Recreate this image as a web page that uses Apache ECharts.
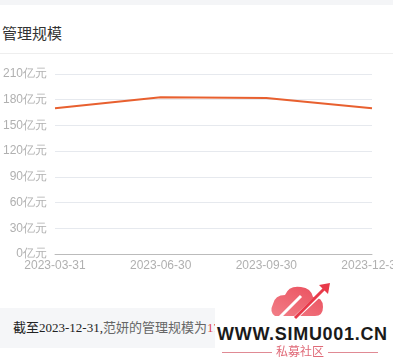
<!DOCTYPE html>
<html>
<head>
<meta charset="utf-8">
<script src="https://cdn.jsdelivr.net/npm/echarts@6/dist/echarts.min.js"></script>
<style>
html,body{margin:0;padding:0;width:393px;height:364px;overflow:hidden;background:#fff;font-family:"Noto Sans CJK SC","Noto Sans",sans-serif;position:relative;}
#topband{position:absolute;left:0;top:0;width:393px;height:5px;background:#f4f5f7;}
#title{position:absolute;left:2px;top:22px;font-size:15px;color:#333;line-height:22px;}
#divider{position:absolute;left:0;top:53px;width:393px;height:1px;background:#eeeeee;}
#chart{position:absolute;left:0;top:0;width:430px;height:364px;}
#note{position:absolute;left:0;top:308px;width:215px;height:40px;background:#f5f6f8;overflow:hidden;white-space:nowrap;}
#note span.t{position:absolute;left:13px;top:11px;font-size:13px;line-height:18px;font-family:"Liberation Serif","Noto Sans CJK SC",serif;}
.dark{color:#222;}
.grey{color:#666;}
.red{color:#e0474c;}
#wm{position:absolute;left:215px;top:280px;width:178px;height:84px;background:#fff;}
#wmtext{position:absolute;left:2px;top:45px;font-size:18px;line-height:18px;font-weight:bold;color:#1a1a1a;font-family:"Liberation Sans",Arial,sans-serif;letter-spacing:0.7px;white-space:nowrap;}
#wmsub{position:absolute;left:0;top:63px;width:170px;text-align:center;font-size:12px;line-height:16px;color:#e06a78;white-space:nowrap;}
#wmsub .ln{display:inline-block;width:50px;height:1px;background:#e08a94;vertical-align:middle;margin:0 4px;}
</style>
</head>
<body>
<div id="topband"></div>
<div id="title">管理规模</div>
<div id="divider"></div>
<div id="chart"></div>
<div id="note"><span class="t"><span class="dark">截至2023-12-31,</span><span class="grey">范妍的管理规模为</span><span class="red">170亿元</span></span></div>
<div id="wm">
<svg width="178" height="42" style="position:absolute;left:0;top:0">
<defs><linearGradient id="g" x1="0" y1="1" x2="1" y2="0"><stop offset="0" stop-color="#f0707a"/><stop offset="1" stop-color="#e83a4a"/></linearGradient></defs>
<path d="M60 36 Q54 32 58 24 Q60 15 70 15 Q74 5 86 7 Q96 8 98 17 Q108 17 108 27 Q108 36 100 36 Z" fill="url(#g)" opacity="0.9"/>
<path d="M64 38 L86 16" stroke="#fff" stroke-width="3"/>
<path d="M78 40 L112 8" stroke="#fff" stroke-width="4"/>
<path d="M80 38 L110 8" stroke="#e83a4a" stroke-width="3"/>
<path d="M104 5 L115 3 L113 14 Z" fill="#e83a4a"/>
</svg>
<div id="wmtext">WWW.SIMU001.CN</div>
<div id="wmsub"><span class="ln"></span>私募社区<span class="ln"></span></div>
</div>
<script>
var categories = ["2023-03-31","2023-06-30","2023-09-30","2023-12-31"];
var scaleValues = [170, 183, 182, 170];
var yTicks = [0, 30, 60, 90, 120, 150, 180, 210];

var chart = echarts.init(document.getElementById('chart'), null, {renderer:'canvas'});
chart.setOption({
  animation:false,
  grid:{left:54, right:58, top:74, bottom:110, containLabel:false},
  xAxis:{
    type:'category', data:categories, boundaryGap:false,
    axisLine:{show:true, lineStyle:{color:'#bbbbbb'}},
    axisTick:{show:false},
    axisLabel:{color:'#b0b0b0', fontSize:12, margin:6, fontFamily:'Liberation Sans, Arial, sans-serif', showMaxLabel:true, hideOverlap:false}
  },
  yAxis:{
    type:'value', min:yTicks[0], max:yTicks[yTicks.length-1], interval:30,
    axisLine:{show:false}, axisTick:{show:false},
    axisLabel:{color:'#b0b0b0', fontSize:12, margin:8, fontFamily:'Liberation Sans, Arial, sans-serif', formatter:function(v){return v+'亿元';}},
    splitLine:{lineStyle:{color:'#e6e9ee'}}
  },
  series:[{
    type:'line', data:scaleValues, symbol:'none',
    lineStyle:{color:'#e8602f', width:2}
  }]
});
</script>
</body>
</html>
